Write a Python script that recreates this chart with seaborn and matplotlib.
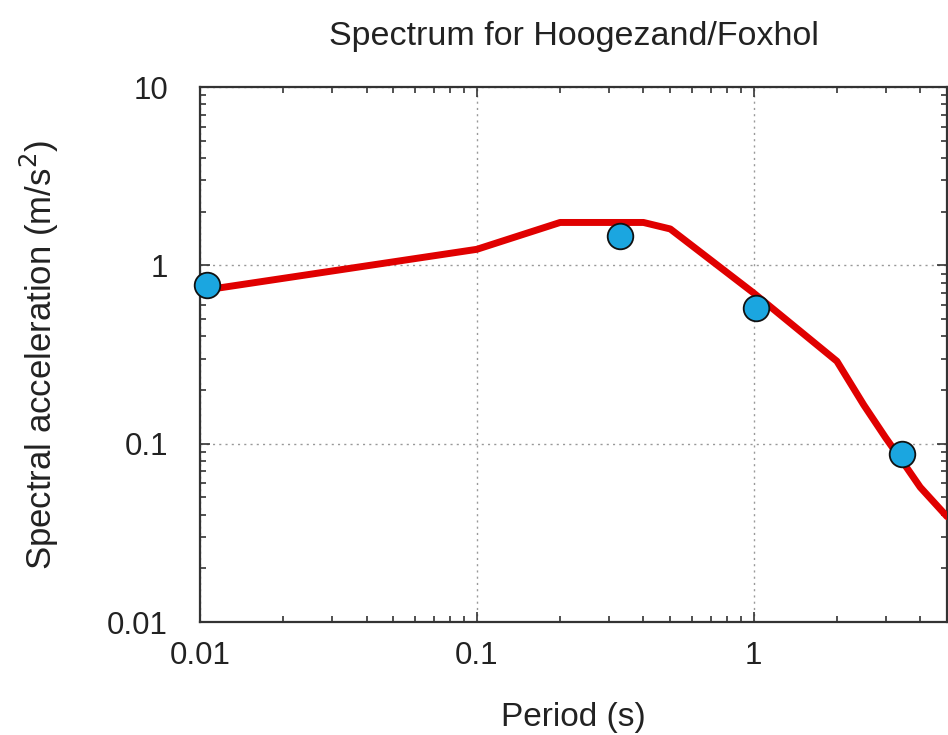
import matplotlib
matplotlib.use("Agg")
import matplotlib.pyplot as plt
import seaborn as sns
import pandas as pd
from matplotlib.ticker import FixedLocator, FixedFormatter, LogLocator, NullFormatter

# Espectro de projeto (linha vermelha)
periodo_linha = [0.01, 0.1, 0.2, 0.4, 0.5, 1.0, 2.0, 2.5, 3.0, 3.5, 4.0, 5.0]
sa_linha = [0.72, 1.23, 1.74, 1.74, 1.6, 0.70, 0.29, 0.165, 0.108, 0.077, 0.057, 0.039]

# Pontos observados (círculos azuis)
periodo_pontos = [0.0106, 0.33, 1.02, 3.45]
sa_pontos = [0.78, 1.46, 0.58, 0.088]

x_ticks = [0.01, 0.1, 1]
x_labels = ["0.01", "0.1", "1"]
y_ticks = [0.01, 0.1, 1, 10]
y_labels = ["0.01", "0.1", "1", "10"]

sns.set_style("ticks")
plt.rcParams['font.family'] = ['Liberation Sans', 'DejaVu Sans']

df_linha = pd.DataFrame({'Periodo': periodo_linha, 'SA': sa_linha})
df_pontos = pd.DataFrame({'Periodo': periodo_pontos, 'SA': sa_pontos})

fig = plt.figure(figsize=(9.48, 7.35), dpi=100)
ax = fig.add_axes([0.211, 0.1537, 0.788, 0.7279])

sns.lineplot(data=df_linha, x='Periodo', y='SA', ax=ax, color='#e00000',
             linewidth=5, zorder=3)
sns.scatterplot(data=df_pontos, x='Periodo', y='SA', ax=ax, color='#1ba6e0',
                edgecolor='#111111', linewidth=1.3, s=340, zorder=4, clip_on=False)

ax.set_xscale('log')
ax.set_yscale('log')
ax.set_xlim(0.01, 5)
ax.set_ylim(0.01, 10)

ax.xaxis.set_major_locator(FixedLocator(x_ticks))
ax.xaxis.set_major_formatter(FixedFormatter(x_labels))
ax.yaxis.set_major_locator(FixedLocator(y_ticks))
ax.yaxis.set_major_formatter(FixedFormatter(y_labels))
ax.xaxis.set_minor_locator(LogLocator(base=10, subs=range(2, 10)))
ax.yaxis.set_minor_locator(LogLocator(base=10, subs=range(2, 10)))
ax.xaxis.set_minor_formatter(NullFormatter())
ax.yaxis.set_minor_formatter(NullFormatter())

ax.tick_params(which='both', direction='in', top=True, right=True,
               color='#333333', width=1.2)
ax.tick_params(which='major', length=7, labelsize=22.5, labelcolor='#222222')
ax.tick_params(axis='x', which='major', pad=14)
ax.tick_params(axis='y', which='major', pad=23)
ax.tick_params(which='minor', length=4)

for lado in ax.spines.values():
    lado.set_linewidth(1.6)
    lado.set_color('#333333')

ax.grid(True, which='major', linestyle=(0, (1.5, 3)), color='#999999', linewidth=1.0)

ax.set_title('Spectrum for Hoogezand/Foxhol', fontsize=24.5, pad=30, color='#222222')
ax.set_xlabel('Period (s)', fontsize=24, labelpad=22, color='#222222')
ax.set_ylabel('Spectral acceleration (m/s$^2$)', fontsize=25, labelpad=33, color='#222222')

fig.savefig('out.png', dpi=100)
